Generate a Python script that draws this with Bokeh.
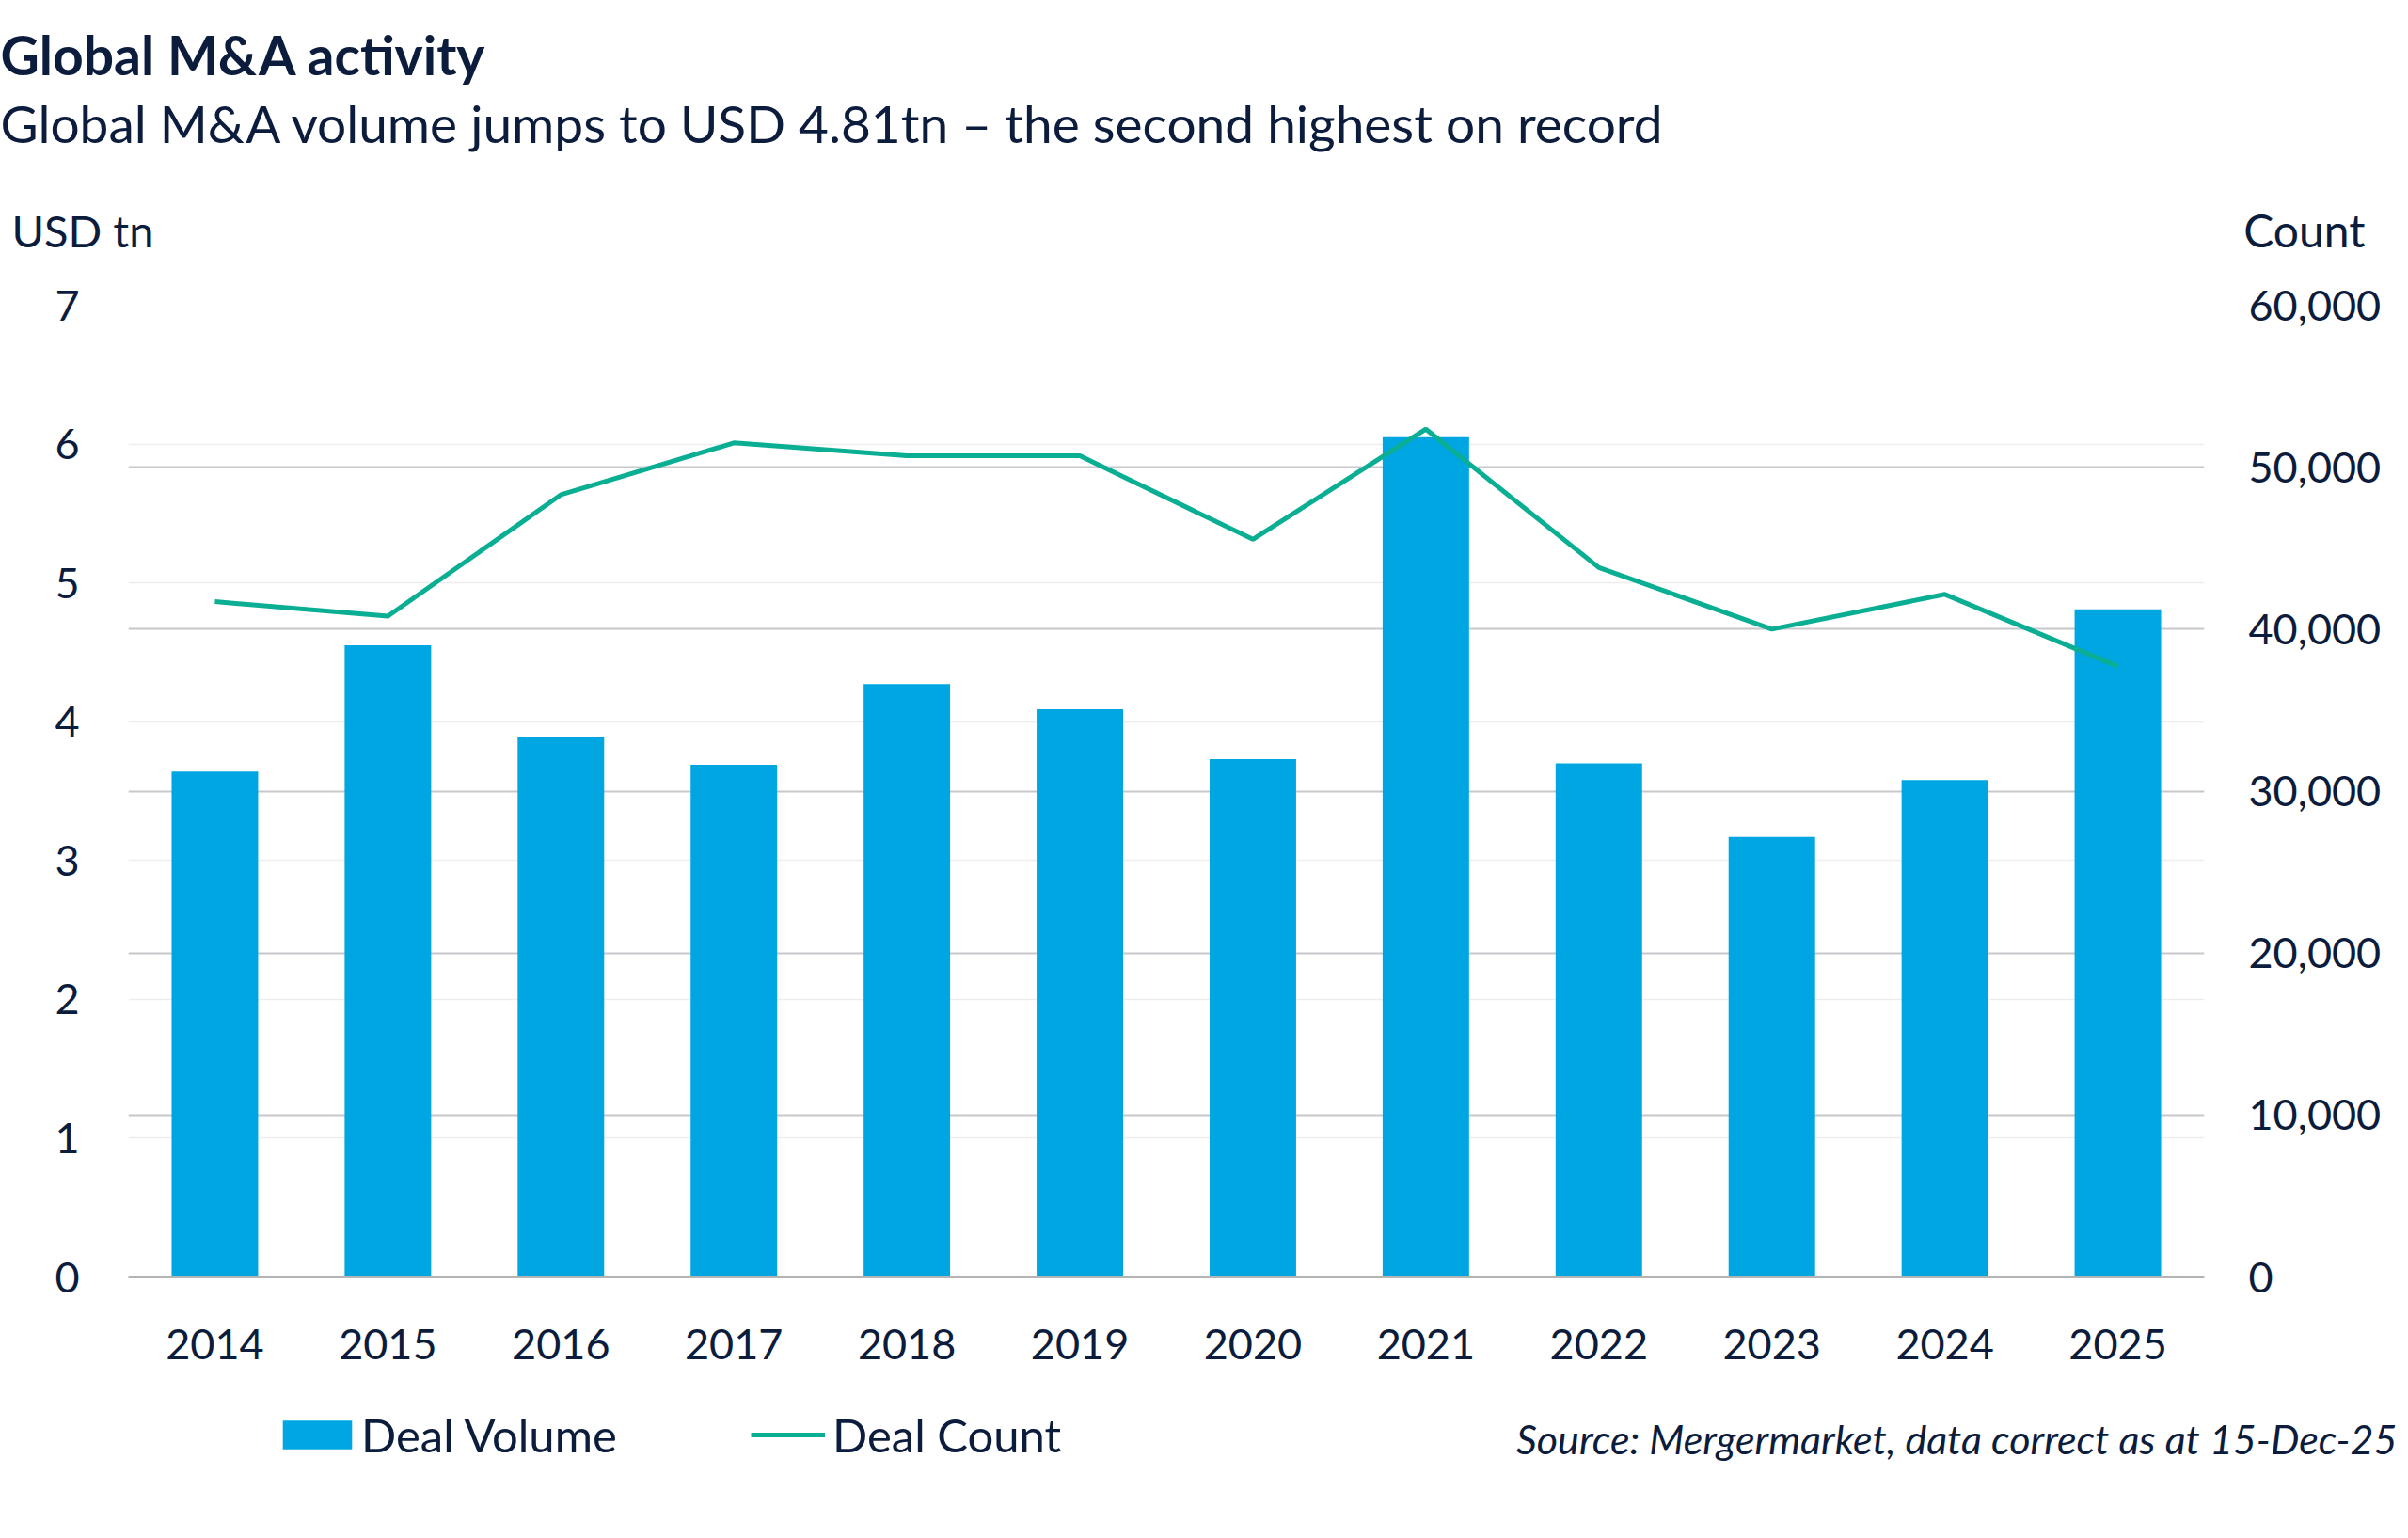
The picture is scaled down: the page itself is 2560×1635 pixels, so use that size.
from bokeh.plotting import figure
from bokeh.layouts import column
from bokeh.models import (Range1d, LinearAxis, FixedTicker, NumeralTickFormatter,
                          Grid, Legend, LegendItem, Label)
from bokeh.embed import file_html
from bokeh.resources import INLINE

years = ["2014", "2015", "2016", "2017", "2018", "2019",
         "2020", "2021", "2022", "2023", "2024", "2025"]
deal_volume = [3.64, 4.55, 3.89, 3.69, 4.27, 4.09, 3.73, 6.05, 3.70, 3.17, 3.58, 4.81]
deal_count = [41700, 40800, 48300, 51500, 50700, 50700, 45550, 52350, 43800, 40000, 42150, 37700]
left_ticks = [0, 1, 2, 3, 4, 5, 6, 7]
right_ticks = [0, 10000, 20000, 30000, 40000, 50000, 60000]

title_text = "Global M&A activity"
subtitle_text = "Global M&A volume jumps to USD 4.81tn \u2013 the second highest on record"
left_unit = "USD tn"
right_unit = "Count"
source_text = "Source: Mergermarket, data correct as at 15-Dec-25"

FONT = "Lato"
TXT = "#0C1C3C"
BAR = "#00A6E2"
LINE = "#0AAE92"
W = 2544


def blank_fig(height, width=W):
    f = figure(width=width, height=height, x_range=Range1d(0, width),
               y_range=Range1d(0, height),
               output_backend="svg", toolbar_location=None,
               x_axis_type=None, y_axis_type=None, min_border=0)
    f.title.visible = False
    f.outline_line_color = None
    f.xgrid.visible = False
    f.ygrid.visible = False
    f.frame_align = False
    return f


# ---------- header ----------
HH = 288
head = blank_fig(HH)
head.add_layout(Label(x=0, y=HH - 78 + 21, text=title_text, text_font=FONT,
                      text_font_size="57px", text_font_style="bold",
                      text_color=TXT, text_baseline="alphabetic"))
head.add_layout(Label(x=0, y=HH - 152 + 22, text=subtitle_text, text_font=FONT,
                      text_font_size="55px", text_color=TXT,
                      text_baseline="alphabetic"))
head.add_layout(Label(x=12, y=HH - 265 + 21, text=left_unit, text_font=FONT,
                      text_font_size="47px", text_color=TXT,
                      text_baseline="alphabetic"))
head.add_layout(Label(x=2514, y=HH - 265 + 21, text=right_unit, text_font=FONT,
                      text_font_size="48px", text_color=TXT,
                      text_baseline="alphabetic", text_align="right"))

# ---------- main chart ----------
p = figure(x_range=years, y_range=Range1d(0, 7), width=W, height=1192,
           output_backend="svg", toolbar_location=None,
           min_border_left=136, min_border_right=201,
           min_border_top=36, min_border_bottom=123)
p.title.visible = False
p.outline_line_color = None
p.frame_align = False
p.extra_y_ranges = {"count": Range1d(0, 60000)}

bars = p.vbar(x=years, top=deal_volume, width=0.5, fill_color=BAR, line_color=None)
ln = p.line(x=years, y=deal_count, y_range_name="count", line_color=LINE, line_width=5)

ya = p.yaxis[0]
ya.ticker = FixedTicker(ticks=left_ticks)
ya.axis_line_color = None
ya.major_tick_line_color = None
ya.minor_tick_line_color = None
ya.major_label_text_font = FONT
ya.major_label_text_font_size = "45px"
ya.major_label_text_color = TXT
ya.major_label_standoff = 46

ra = LinearAxis(y_range_name="count", ticker=FixedTicker(ticks=right_ticks),
                formatter=NumeralTickFormatter(format="0,0"))
ra.axis_line_color = None
ra.major_tick_line_color = None
ra.minor_tick_line_color = None
ra.major_label_text_font = FONT
ra.major_label_text_font_size = "45px"
ra.major_label_text_color = TXT
ra.major_label_standoff = 41
p.add_layout(ra, "right")

xa = p.xaxis[0]
xa.axis_line_color = "#B4B4B4"
xa.axis_line_width = 3
xa.major_tick_line_color = None
xa.minor_tick_line_color = None
xa.major_label_text_font = FONT
xa.major_label_text_font_size = "45px"
xa.major_label_text_color = TXT
xa.major_label_standoff = 49

p.xgrid.grid_line_color = None
p.ygrid.ticker = FixedTicker(ticks=left_ticks)
p.ygrid.grid_line_color = "#EDEDED"
p.ygrid.grid_line_width = 1.5
rg = Grid(dimension=1, ticker=FixedTicker(ticks=right_ticks), y_range_name="count",
          grid_line_color="#C6C8CC", grid_line_width=2)
p.add_layout(rg)

# ---------- footer (legend + source) ----------
FH = 147
FW = 2552
foot = blank_fig(FH, FW)
# legend swatches (kept outside the visible frame)
lg_bar = foot.vbar(x=[-500], top=[-500], bottom=[-600], width=10,
                   fill_color=BAR, line_color=None)
lg_line = foot.line(x=[-600, -500], y=[-500, -500], line_color=LINE, line_width=5)
leg_common = dict(orientation="horizontal", padding=0, margin=0,
                  border_line_color=None, background_fill_alpha=0,
                  label_text_font=FONT, label_text_font_size="49px",
                  label_text_color=TXT)
legend1 = Legend(items=[LegendItem(label="Deal Volume", renderers=[lg_bar])],
                 location=(291, 73), glyph_width=92, glyph_height=38,
                 label_standoff=1, **leg_common)
legend2 = Legend(items=[LegendItem(label="Deal Count", renderers=[lg_line])],
                 location=(798, 73), glyph_width=79, glyph_height=38,
                 label_standoff=8, **leg_common)
foot.add_layout(legend1)
foot.add_layout(legend2)
foot.add_layout(Label(x=2548, y=FH - (1549 - 1480) + 20, text=source_text,
                      text_font=FONT, text_font_size="43px",
                      text_font_style="italic", text_color=TXT,
                      text_baseline="alphabetic", text_align="right"))

layout = column(head, p, foot, spacing=0)
open("out.html", "w").write(file_html(layout, INLINE))
